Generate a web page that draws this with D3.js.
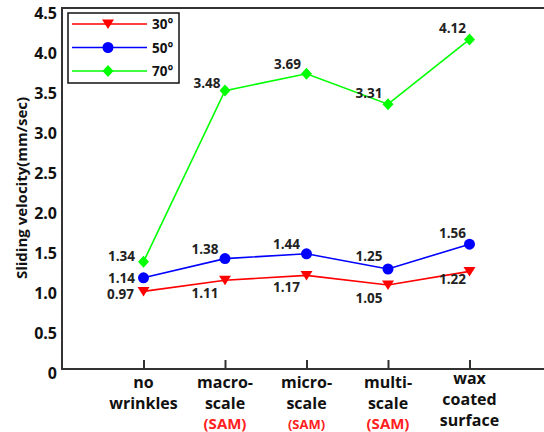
<!DOCTYPE html>
<html><head><meta charset="utf-8">
<script src="https://cdn.jsdelivr.net/npm/d3@7/dist/d3.min.js"></script>
<style>body{margin:0;background:#fff;} svg{display:block;font-family:"Open Sans","Noto Sans",sans-serif;}</style>
</head><body>
<svg id="c" width="544" height="432"></svg>
<script>
const categories = ["no wrinkles","macro-scale (SAM)","micro-scale (SAM)","multi-scale (SAM)","wax coated surface"];
const catLines = [["no","wrinkles"],["macro-","scale","(SAM)"],["micro-","scale","(SAM)"],["multi-","scale","(SAM)"],["wax","coated","surface"]];
const seriesNames = ["30°","50°","70°"];
const v30 = [0.97,1.11,1.17,1.05,1.22];
const v50 = [1.14,1.38,1.44,1.25,1.56];
const v70 = [1.34,3.48,3.69,3.31,4.12];
const yTicks = [0,0.5,1.0,1.5,2.0,2.5,3.0,3.5,4.0,4.5];

// layout / style (not data)
const colors = ["#ff0000","#0000ff","#00ff00"];
const symbols = ["tri","circle","diamond"];
const labelDy = [
  [3,13,12,13,8],      // 30°
  [0,-10,-10,-13,-11], // 50°
  [-6,-8,-10,-11,-11]  // 70°
];
const labelDx = [
  [-23,-20,-20,-19,-17],
  [-22,-20,-20,-19,-17],
  [-22,-18,-19,-19,-17]
];

const svg = d3.select("#c");
const L = 62, T = 8, B = 369, R = 551;
const x = d3.scalePoint().domain(categories).range([L, R]).padding(1);
const y = d3.scaleLinear().domain([0,4.5]).range([B, 9]);

const axisCol = "#333";
// frame
svg.append("line").attr("x1",L).attr("x2",544).attr("y1",T).attr("y2",T).attr("stroke",axisCol).attr("stroke-width",2);
svg.append("line").attr("x1",L).attr("x2",L).attr("y1",T-1).attr("y2",B+1).attr("stroke",axisCol).attr("stroke-width",2);
svg.append("line").attr("x1",L-1).attr("x2",544).attr("y1",B).attr("y2",B).attr("stroke",axisCol).attr("stroke-width",2);

// x ticks (inward)
const xa = d3.axisBottom(x).tickSize(-9).tickFormat("");
const gx = svg.append("g").attr("transform",`translate(0,${B})`).call(xa);
gx.select(".domain").remove();
gx.selectAll(".tick line").attr("stroke",axisCol).attr("stroke-width",2);

// x labels
categories.forEach((c,i)=>{
  const lines = catLines[i];
  const base = i===4 ? 384 : 388;
  lines.forEach((t,j)=>{
    const isSam = t==="(SAM)";
    svg.append("text").attr("x",x(c)).attr("y",base + j*21 + (isSam? -1:0))
      .attr("text-anchor","middle")
      .attr("font-size", isSam ? (i===2?13:15) : 16)
      .attr("font-weight","bold")
      .attr("fill", isSam ? "#ff2020" : "#111")
      .text(t);
  });
});

// y axis labels
const ya = d3.axisLeft(y).tickValues(yTicks).tickSize(0).tickPadding(5)
  .tickFormat(d => d===0 ? "0" : d3.format(".1f")(d));
const gy = svg.append("g").attr("transform",`translate(${L},0)`).call(ya);
gy.select(".domain").remove();
gy.selectAll(".tick text").attr("font-size",16).attr("font-weight","bold").attr("fill","#111")
  .attr("font-family","'Open Sans','Noto Sans',sans-serif").attr("dy","0.62em");

// y title
svg.append("text").attr("transform","translate(27,188) rotate(-90)")
  .attr("text-anchor","middle").attr("font-size",15).attr("font-weight","bold").attr("fill","#111")
  .text("Sliding velocity(mm/sec)");

function drawSymbol(g, type, cx, cy, col){
  if(type==="circle"){
    g.append("circle").attr("cx",cx).attr("cy",cy).attr("r",5.5).attr("fill",col);
  } else if(type==="tri"){
    g.append("path").attr("d",`M${cx-6},${cy-4.5}L${cx+6},${cy-4.5}L${cx},${cy+5}Z`).attr("fill",col);
  } else {
    g.append("path").attr("d",`M${cx},${cy-6}L${cx+5.5},${cy}L${cx},${cy+6}L${cx-5.5},${cy}Z`).attr("fill",col);
  }
}

const allSeries = [v30, v50, v70];
const line = d3.line().x((d,i)=>x(categories[i])).y(d=>y(d));
[2,1,0].forEach(s=>{
  const g = svg.append("g");
  g.append("path").attr("d", line(allSeries[s])).attr("fill","none").attr("stroke",colors[s]).attr("stroke-width",1.6);
  allSeries[s].forEach((v,i)=>{
    drawSymbol(g, symbols[s], x(categories[i]), y(v), colors[s]);
  });
});
// data labels
[0,1,2].forEach(s=>{
  allSeries[s].forEach((v,i)=>{
    svg.append("text").attr("x", x(categories[i]) + labelDx[s][i]).attr("y", y(v) + labelDy[s][i])
      .attr("text-anchor","middle").attr("dominant-baseline","central")
      .attr("font-size",13.5).attr("font-weight","bold").attr("fill","#222")
      .text(d3.format(".2f")(v));
  });
});

// legend
const lg = svg.append("g");
lg.append("rect").attr("x",68).attr("y",13).attr("width",111).attr("height",70)
  .attr("fill","#fff").attr("stroke","#111").attr("stroke-width",1.5);
seriesNames.forEach((n,k)=>{
  const ly = 24 + k*23.5;
  lg.append("line").attr("x1",72).attr("x2",147).attr("y1",ly).attr("y2",ly).attr("stroke",colors[k]).attr("stroke-width",1.6);
  drawSymbol(lg, symbols[k], 108, ly, colors[k]);
  lg.append("text").attr("x",152).attr("y",ly).attr("dominant-baseline","central")
    .attr("font-size",13.5).attr("font-weight","bold").attr("fill","#111").text(n);
});
</script>
</body></html>
